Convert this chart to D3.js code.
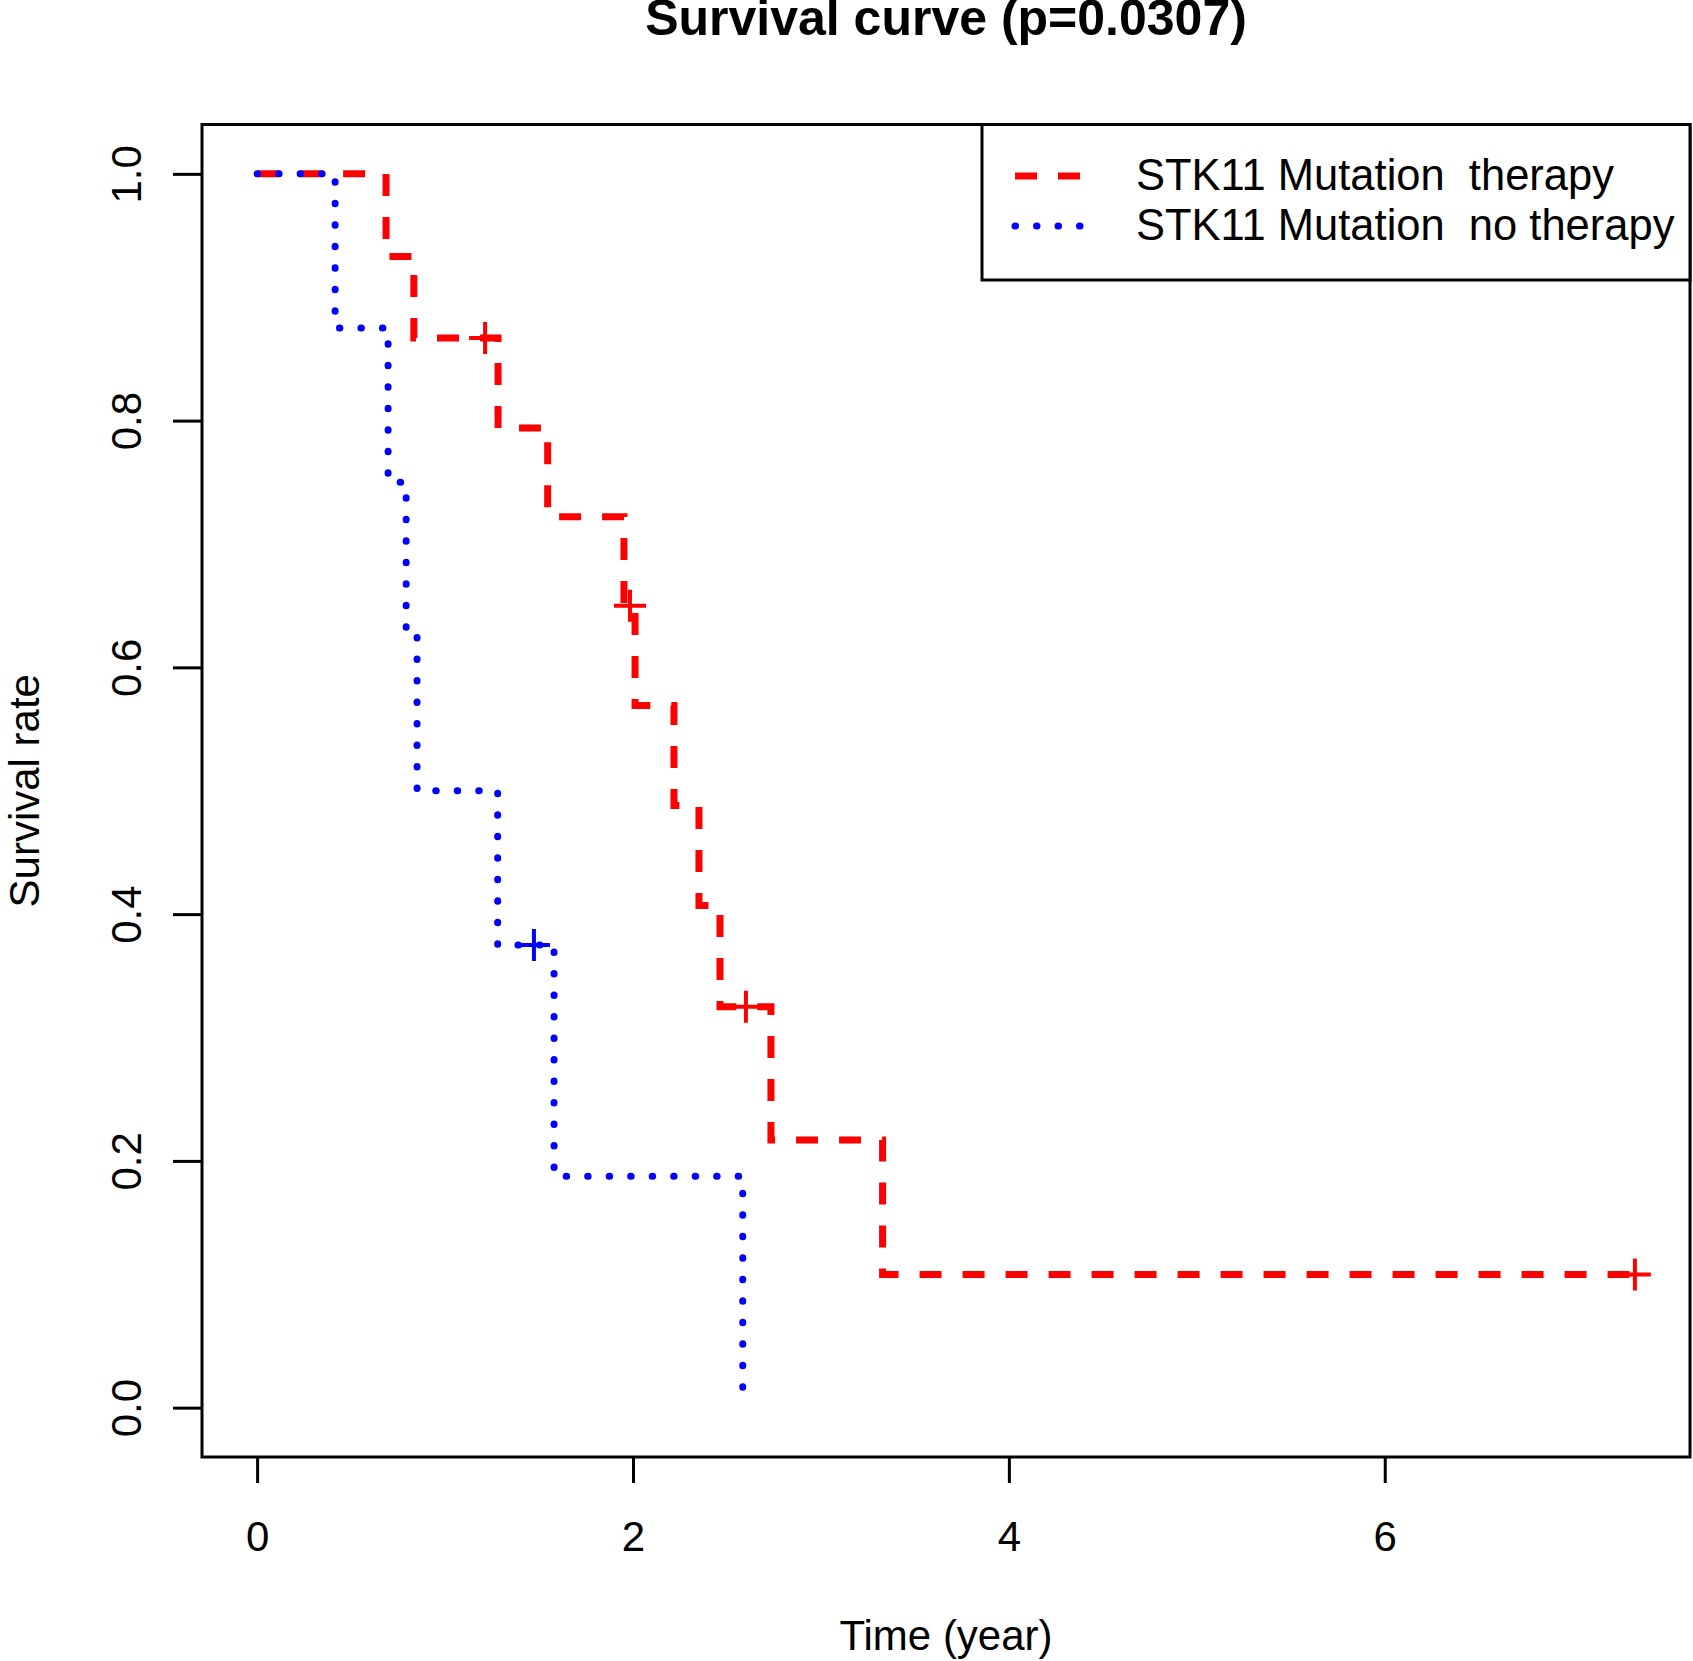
<!DOCTYPE html>
<html lang="en">
<head>
    <meta charset="UTF-8">
    <title>Survival curve</title>
    <script src="https://d3js.org/d3.v7.min.js"></script>
    <style>
        body { margin: 0; background: #fff; }
        text { font-family: "Liberation Sans", Arial, sans-serif; fill: #000; }
    </style>
</head>
<body>
    <script>
    // data: step times (years) and survival after each step
    var therapyTime = [0, 0.686, 0.834, 1.282, 1.546, 1.952, 2.011, 2.218, 2.351, 2.463, 2.734, 3.328, 7.331];
    var therapySurv = [1, 0.933, 0.867, 0.794, 0.722, 0.650, 0.569, 0.488, 0.407, 0.325, 0.217, 0.108, 0.108];
    var therapyCensorTime = [1.213, 1.984, 2.601, 7.331];
    var therapyCensorSurv = [0.867, 0.650, 0.325, 0.108];

    var noTherapyTime = [0, 0.415, 0.697, 0.793, 0.851, 1.280, 1.580, 2.584];
    var noTherapySurv = [1, 0.875, 0.750, 0.625, 0.500, 0.375, 0.1875, 0];
    var noTherapyCensorTime = [1.473];
    var noTherapyCensorSurv = [0.375];

    var xTicks = [0, 2, 4, 6];
    var yTicks = [0, 0.2, 0.4, 0.6, 0.8, 1.0];
    var legendLabels = ["STK11 Mutation  therapy", "STK11 Mutation  no therapy"];
    var title = "Survival curve (p=0.0307)";

    var width = 1693, height = 1661;
    var box = { left: 202, right: 1690, top: 124.5, bottom: 1457 };

    var svg = d3.select("body").append("svg")
        .attr("width", width)
        .attr("height", height);

    // R style 4% padding on both axes
    var tMax = d3.max(therapyTime.concat(noTherapyTime));
    var x = d3.scaleLinear()
        .domain([-0.04 * tMax, 1.04 * tMax])
        .range([box.left, box.right]);
    var y = d3.scaleLinear()
        .domain([-0.04, 1.04])
        .range([box.bottom, box.top]);

    function pts(ts, ss) { return ts.map(function (t, i) { return [t, ss[i]]; }); }

    var line = d3.line()
        .x(function (d) { return x(d[0]); })
        .y(function (d) { return y(d[1]); })
        .curve(d3.curveStepAfter);

    var series = [
        { pts: pts(therapyTime, therapySurv), cens: pts(therapyCensorTime, therapyCensorSurv),
          color: "#ff0000", dash: "22,21", cap: "butt" },
        { pts: pts(noTherapyTime, noTherapySurv), cens: pts(noTherapyCensorTime, noTherapyCensorSurv),
          color: "#0000ff", dash: "0.5,21", cap: "round" }
    ];

    series.forEach(function (s) {
        svg.append("path")
            .attr("d", line(s.pts))
            .attr("fill", "none")
            .attr("stroke", s.color)
            .attr("stroke-width", 7)
            .attr("stroke-dasharray", s.dash)
            .attr("stroke-linecap", s.cap);

        // censor marks "+"
        var c = svg.append("g").selectAll("g")
            .data(s.cens)
            .enter().append("g")
            .attr("transform", function (d) { return "translate(" + x(d[0]) + "," + y(d[1]) + ")"; });
        c.append("path")
            .attr("d", "M-16,0H16M0,-16V16")
            .attr("stroke", s.color)
            .attr("stroke-width", 4);
    });

    // frame
    svg.append("rect")
        .attr("x", box.left).attr("y", box.top)
        .attr("width", box.right - box.left)
        .attr("height", box.bottom - box.top)
        .attr("fill", "none")
        .attr("stroke", "#000")
        .attr("stroke-width", 3);

    // x axis
    var gx = svg.append("g")
        .attr("transform", "translate(0," + box.bottom + ")")
        .call(d3.axisBottom(x).tickValues(xTicks).tickFormat(d3.format("d")).tickSize(26));
    gx.select(".domain").remove();
    gx.selectAll(".tick line").attr("stroke", "#000").attr("stroke-width", 3);
    gx.selectAll(".tick text")
        .attr("y", 94).attr("dy", null)
        .attr("font-size", 42)
        .attr("font-family", "Liberation Sans, Arial, sans-serif");

    // y axis, labels parallel to axis like R
    var gy = svg.append("g")
        .attr("transform", "translate(" + box.left + ",0)")
        .call(d3.axisLeft(y).tickValues(yTicks).tickFormat(d3.format(".1f")).tickSize(29));
    gy.select(".domain").remove();
    gy.selectAll(".tick line").attr("stroke", "#000").attr("stroke-width", 3);
    gy.selectAll(".tick text")
        .attr("x", null).attr("dy", null)
        .attr("text-anchor", "middle")
        .attr("transform", "translate(-61,0) rotate(-90)")
        .attr("font-size", 42)
        .attr("font-family", "Liberation Sans, Arial, sans-serif");

    // titles
    svg.append("text")
        .attr("x", (box.left + box.right) / 2).attr("y", 35)
        .attr("text-anchor", "middle")
        .attr("font-size", 50)
        .attr("font-weight", "bold")
        .text(title);

    svg.append("text")
        .attr("x", (box.left + box.right) / 2).attr("y", 1650)
        .attr("text-anchor", "middle")
        .attr("font-size", 42)
        .text("Time (year)");

    svg.append("text")
        .attr("transform", "translate(39," + (box.top + box.bottom) / 2 + ") rotate(-90)")
        .attr("text-anchor", "middle")
        .attr("font-size", 42)
        .text("Survival rate");

    // legend
    var legend = svg.append("g");
    legend.append("rect")
        .attr("x", 982).attr("y", box.top)
        .attr("width", box.right - 982).attr("height", 280 - box.top)
        .attr("fill", "#fff")
        .attr("stroke", "#000")
        .attr("stroke-width", 3);

    var rows = legend.selectAll(".row")
        .data(series)
        .enter().append("g")
        .attr("class", "row")
        .attr("transform", function (d, i) { return "translate(0," + (176 + i * 50) + ")"; });
    rows.append("line")
        .attr("x1", 1015).attr("x2", 1085)
        .attr("stroke", function (d) { return d.color; })
        .attr("stroke-width", 7)
        .attr("stroke-dasharray", function (d) { return d.dash; })
        .attr("stroke-linecap", function (d) { return d.cap; });
    rows.append("text")
        .attr("x", 1136).attr("y", 14)
        .attr("font-size", 43.5)
        .style("white-space", "pre")
        .text(function (d, i) { return legendLabels[i]; });
    </script>
</body>
</html>
